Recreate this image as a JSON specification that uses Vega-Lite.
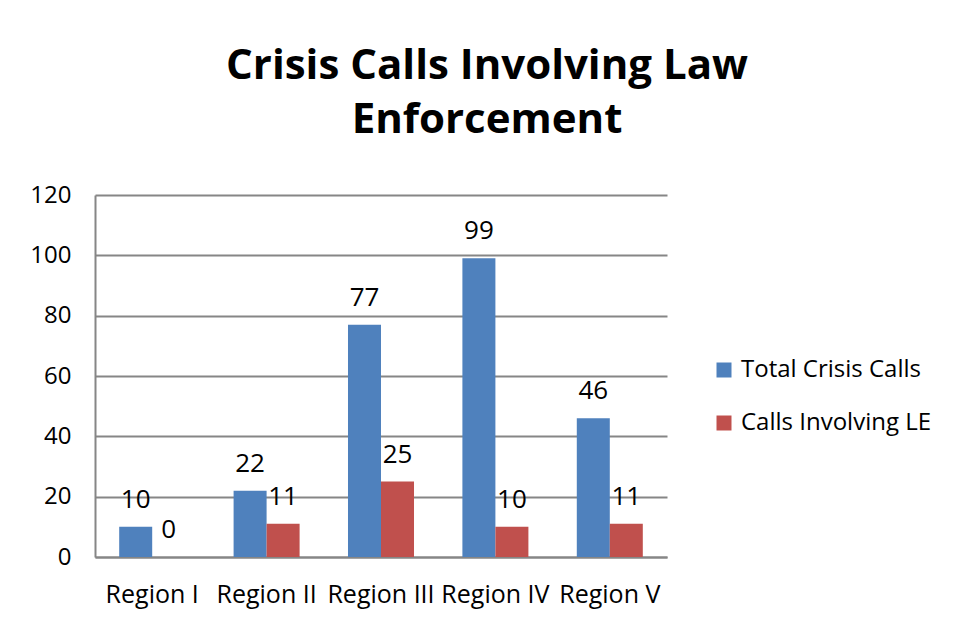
{
  "$schema": "https://vega.github.io/schema/vega-lite/v6.json",
  "width": 572,
  "height": 362,
  "autosize": "none",
  "padding": {"left": 95, "top": 195, "right": 287, "bottom": 68},
  "background": "white",
  "config": {
    "font": "Open Sans",
    "view": {"stroke": null}
  },
  "title": {
    "text": ["Crisis Calls Involving Law", "Enforcement"],
    "fontSize": 42,
    "fontWeight": "bold",
    "font": "Open Sans",
    "color": "#000000",
    "anchor": "middle",
    "frame": "group",
    "dx": 106,
    "offset": 41,
    "lineHeight": 54
  },
  "data": {
    "values": [
      {"region": "Region I", "series": "Total Crisis Calls", "value": 10},
      {"region": "Region I", "series": "Calls Involving LE", "value": 0},
      {"region": "Region II", "series": "Total Crisis Calls", "value": 22},
      {"region": "Region II", "series": "Calls Involving LE", "value": 11},
      {"region": "Region III", "series": "Total Crisis Calls", "value": 77},
      {"region": "Region III", "series": "Calls Involving LE", "value": 25},
      {"region": "Region IV", "series": "Total Crisis Calls", "value": 99},
      {"region": "Region IV", "series": "Calls Involving LE", "value": 10},
      {"region": "Region V", "series": "Total Crisis Calls", "value": 46},
      {"region": "Region V", "series": "Calls Involving LE", "value": 11}
    ]
  },
  "encoding": {
    "x": {
      "field": "region",
      "type": "nominal",
      "sort": null,
      "title": null,
      "scale": {"paddingInner": 0.423, "paddingOuter": 0.2115},
      "axis": {
        "labelAngle": 0,
        "labelFontSize": 25,
        "labelColor": "#000000",
        "labelPadding": 25,
        "labelLimit": 200,
        "labelOverlap": false,
        "ticks": false,
        "domainColor": "#868686",
        "domainWidth": 2
      }
    },
    "xOffset": {
      "field": "series",
      "type": "nominal",
      "sort": ["Total Crisis Calls", "Calls Involving LE"]
    },
    "y": {
      "field": "value",
      "type": "quantitative",
      "title": null,
      "scale": {"domain": [0, 120]},
      "axis": {
        "values": [0, 20, 40, 60, 80, 100, 120],
        "labelFontSize": 24,
        "labelColor": "#000000",
        "labelPadding": 24,
        "ticks": false,
        "gridColor": "#868686",
        "gridWidth": 2,
        "domainColor": "#868686",
        "domainWidth": 2
      }
    }
  },
  "layer": [
    {
      "mark": {"type": "bar"},
      "encoding": {
        "color": {
          "field": "series",
          "type": "nominal",
          "sort": ["Total Crisis Calls", "Calls Involving LE"],
          "scale": {
            "domain": ["Total Crisis Calls", "Calls Involving LE"],
            "range": ["#4F81BD", "#C0504D"]
          },
          "legend": {
            "title": null,
            "orient": "none",
            "legendX": 617,
            "legendY": 163,
            "symbolType": "square",
            "symbolSize": 225,
            "symbolStrokeWidth": 0,
            "labelFontSize": 24,
            "labelColor": "#000000",
            "labelLimit": 300,
            "rowPadding": 29,
            "labelOffset": 5
          }
        }
      }
    },
    {
      "mark": {"type": "text", "baseline": "alphabetic", "dy": -19, "fontSize": 26, "color": "#000000"},
      "encoding": {
        "text": {"field": "value", "type": "quantitative"}
      }
    }
  ]
}
